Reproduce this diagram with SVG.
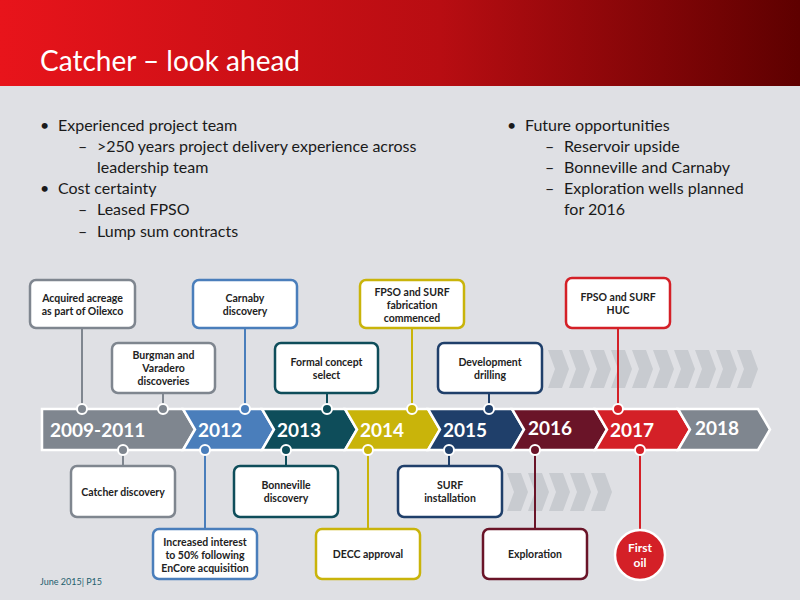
<svg xmlns="http://www.w3.org/2000/svg" width="800" height="600" viewBox="0 0 800 600">
<defs>
<linearGradient id="hg" x1="0" x2="1" y1="0" y2="0"><stop offset="0" stop-color="#e8141b"/><stop offset="0.55" stop-color="#b80d12"/><stop offset="1" stop-color="#5e0000"/></linearGradient>
<g id="fc"><polygon points="0,0 14,0 21,19 14,38 0,38 7,19" fill="#c8cbd0"/></g>
</defs>
<style>
text{font-family:Lato,"Open Sans",sans-serif}
.b{font-size:16px;fill:#1a1a1a}
.bx{fill:#fff;stroke-width:2.5}
.bt{font-size:10.5px;font-weight:bold;fill:#222;text-anchor:middle}
.yr{font-size:19px;font-weight:bold;fill:#fff}
.ln{stroke-width:2;fill:none}
.dt{stroke:#fff;stroke-width:2}
.seg{stroke:#fff;stroke-width:2.5;stroke-linejoin:miter}
</style>
<rect width="800" height="600" fill="#dfe0e4"/>
<rect width="800" height="86" fill="url(#hg)"/>
<text x="40" y="71" font-size="28" fill="#fff">Catcher – look ahead</text>
<g id="bullets" class="b">
<text x="40" y="131" class="b">•</text><text x="58" y="131" class="b">Experienced project team</text>
<text x="78" y="152" class="b">–</text><text x="97" y="152" class="b">&gt;250 years project delivery experience across</text>
<text x="97" y="173" class="b">leadership team</text>
<text x="40" y="194" class="b">•</text><text x="58" y="194" class="b">Cost certainty</text>
<text x="78" y="215" class="b">–</text><text x="97" y="215" class="b">Leased FPSO</text>
<text x="78" y="237" class="b">–</text><text x="97" y="237" class="b">Lump sum contracts</text>
<text x="507" y="131" class="b">•</text><text x="525" y="131" class="b">Future opportunities</text>
<text x="545" y="152" class="b">–</text><text x="564" y="152" class="b">Reservoir upside</text>
<text x="545" y="173" class="b">–</text><text x="564" y="173" class="b">Bonneville and Carnaby</text>
<text x="545" y="194" class="b">–</text><text x="564" y="194" class="b">Exploration wells planned</text>
<text x="564" y="215" class="b">for 2016</text>
</g>
<g id="faded">
<use href="#fc" x="548" y="350"/><use href="#fc" x="569" y="350"/><use href="#fc" x="590" y="350"/><use href="#fc" x="611" y="350"/><use href="#fc" x="632" y="350"/><use href="#fc" x="653" y="350"/><use href="#fc" x="674" y="350"/><use href="#fc" x="695" y="350"/><use href="#fc" x="716" y="350"/><use href="#fc" x="737" y="350"/>
<use href="#fc" x="507" y="473"/><use href="#fc" x="528" y="473"/><use href="#fc" x="549" y="473"/><use href="#fc" x="570" y="473"/><use href="#fc" x="591" y="473"/>
</g>
<g id="connectors">
<line class="ln" x1="82" y1="328" x2="82" y2="409" stroke="#7f868f"/>
<line class="ln" x1="163" y1="393" x2="163" y2="409" stroke="#7f868f"/>
<line class="ln" x1="245" y1="328" x2="245" y2="409" stroke="#4a7ebb"/>
<line class="ln" x1="327" y1="393" x2="327" y2="409" stroke="#0e4d5a"/>
<line class="ln" x1="412" y1="328" x2="412" y2="409" stroke="#c9b40a"/>
<line class="ln" x1="489" y1="393" x2="489" y2="409" stroke="#1f3f6a"/>
<line class="ln" x1="618" y1="328" x2="618" y2="409" stroke="#d42027"/>
<line class="ln" x1="123" y1="450" x2="123" y2="466" stroke="#7f868f"/>
<line class="ln" x1="205" y1="450" x2="205" y2="529" stroke="#4a7ebb"/>
<line class="ln" x1="286" y1="450" x2="286" y2="466" stroke="#0e4d5a"/>
<line class="ln" x1="368" y1="450" x2="368" y2="529" stroke="#c9b40a"/>
<line class="ln" x1="449" y1="450" x2="449" y2="466" stroke="#1f3f6a"/>
<line class="ln" x1="535" y1="450" x2="535" y2="529" stroke="#6a1428"/>
<line class="ln" x1="640" y1="450" x2="640" y2="530" stroke="#d42027"/>
</g>
<g id="timeline">
<polygon class="seg" fill="#7f868f" points="42,409 183,409 195,429.5 183,450 42,450"/>
<polygon class="seg" fill="#4a7ebb" points="183,409 262,409 274,429.5 262,450 183,450 195,429.5"/>
<polygon class="seg" fill="#0e4d5a" points="262,409 345,409 357,429.5 345,450 262,450 274,429.5"/>
<polygon class="seg" fill="#c9b40a" points="345,409 428,409 440,429.5 428,450 345,450 357,429.5"/>
<polygon class="seg" fill="#1f3f6a" points="428,409 512,409 524,429.5 512,450 428,450 440,429.5"/>
<polygon class="seg" fill="#6a1428" points="512,409 595,409 607,429.5 595,450 512,450 524,429.5"/>
<polygon class="seg" fill="#d42027" points="595,409 678,409 690,429.5 678,450 595,450 607,429.5"/>
<polygon class="seg" fill="#7f868f" points="678,409 758,409 770,429.5 758,450 678,450 690,429.5"/>
<text class="yr" x="50" y="437">2009-2011</text>
<text class="yr" x="198" y="437">2012</text>
<text class="yr" x="277" y="437">2013</text>
<text class="yr" x="360" y="437">2014</text>
<text class="yr" x="443" y="437">2015</text>
<text class="yr" x="528" y="435">2016</text>
<text class="yr" x="610" y="437">2017</text>
<text class="yr" x="695" y="435">2018</text>
<circle class="dt" cx="82" cy="409" r="5" fill="#7f868f"/>
<circle class="dt" cx="163" cy="409" r="5" fill="#7f868f"/>
<circle class="dt" cx="245" cy="409" r="5" fill="#4a7ebb"/>
<circle class="dt" cx="327" cy="409" r="5" fill="#0e4d5a"/>
<circle class="dt" cx="412" cy="409" r="5" fill="#c9b40a"/>
<circle class="dt" cx="489" cy="409" r="5" fill="#1f3f6a"/>
<circle class="dt" cx="618" cy="409" r="5" fill="#d42027"/>
<circle class="dt" cx="123" cy="450" r="5" fill="#7f868f"/>
<circle class="dt" cx="205" cy="450" r="5" fill="#4a7ebb"/>
<circle class="dt" cx="286" cy="450" r="5" fill="#0e4d5a"/>
<circle class="dt" cx="368" cy="450" r="5" fill="#c9b40a"/>
<circle class="dt" cx="449" cy="450" r="5" fill="#1f3f6a"/>
<circle class="dt" cx="535" cy="450" r="5" fill="#6a1428"/>
<circle class="dt" cx="640" cy="450" r="5" fill="#d42027"/>
</g>
<g id="n1"><rect class="bx" x="30" y="280" width="105" height="48" rx="6" stroke="#7f868f"/><text class="bt" x="82.5" y="302">Acquired acreage</text><text class="bt" x="82.5" y="315">as part of Oilexco</text></g>
<g id="n2"><rect class="bx" x="112" y="343" width="103" height="50" rx="6" stroke="#7f868f"/><text class="bt" x="163.5" y="359">Burgman and</text><text class="bt" x="163.5" y="372">Varadero</text><text class="bt" x="163.5" y="385">discoveries</text></g>
<g id="n3"><rect class="bx" x="193" y="280" width="104" height="48" rx="6" stroke="#4a7ebb"/><text class="bt" x="245" y="302">Carnaby</text><text class="bt" x="245" y="315">discovery</text></g>
<g id="n4"><rect class="bx" x="275" y="343" width="103" height="50" rx="6" stroke="#0e4d5a"/><text class="bt" x="326.5" y="366">Formal concept</text><text class="bt" x="326.5" y="379">select</text></g>
<g id="n5"><rect class="bx" x="360" y="280" width="104" height="48" rx="6" stroke="#c9b40a"/><text class="bt" x="412" y="296">FPSO and SURF</text><text class="bt" x="412" y="309">fabrication</text><text class="bt" x="412" y="322">commenced</text></g>
<g id="n6"><rect class="bx" x="438" y="343" width="104" height="50" rx="6" stroke="#1f3f6a"/><text class="bt" x="490" y="366">Development</text><text class="bt" x="490" y="379">drilling</text></g>
<g id="n7"><rect class="bx" x="566" y="278" width="104" height="50" rx="6" stroke="#d42027"/><text class="bt" x="618" y="301">FPSO and SURF</text><text class="bt" x="618" y="314">HUC</text></g>
<g id="n8"><rect class="bx" x="71" y="466" width="104" height="51" rx="6" stroke="#7f868f"/><text class="bt" x="123" y="496">Catcher discovery</text></g>
<g id="n9"><rect class="bx" x="153" y="529" width="104" height="50" rx="6" stroke="#4a7ebb"/><text class="bt" x="205" y="546">Increased interest</text><text class="bt" x="205" y="559">to 50% following</text><text class="bt" x="205" y="572">EnCore acquisition</text></g>
<g id="n10"><rect class="bx" x="234" y="466" width="104" height="51" rx="6" stroke="#0e4d5a"/><text class="bt" x="286" y="489">Bonneville</text><text class="bt" x="286" y="502">discovery</text></g>
<g id="n11"><rect class="bx" x="316" y="529" width="104" height="50" rx="6" stroke="#c9b40a"/><text class="bt" x="368" y="558">DECC approval</text></g>
<g id="n12"><rect class="bx" x="398" y="466" width="104" height="51" rx="6" stroke="#1f3f6a"/><text class="bt" x="450" y="489">SURF</text><text class="bt" x="450" y="502">installation</text></g>
<g id="n13"><rect class="bx" x="483" y="529" width="104" height="50" rx="6" stroke="#6a1428"/><text class="bt" x="535" y="558">Exploration</text></g>
<g id="n14"><circle cx="640" cy="555" r="25" fill="#d42027" stroke="#fff" stroke-width="2.5"/><text class="bt" x="640" y="552" style="fill:#fff;font-size:12px">First</text><text class="bt" x="640" y="567" style="fill:#fff;font-size:12px">oil</text></g>
<text x="40" y="585" font-size="9" fill="#1d5f6e">June 2015| P15</text>
</svg>
